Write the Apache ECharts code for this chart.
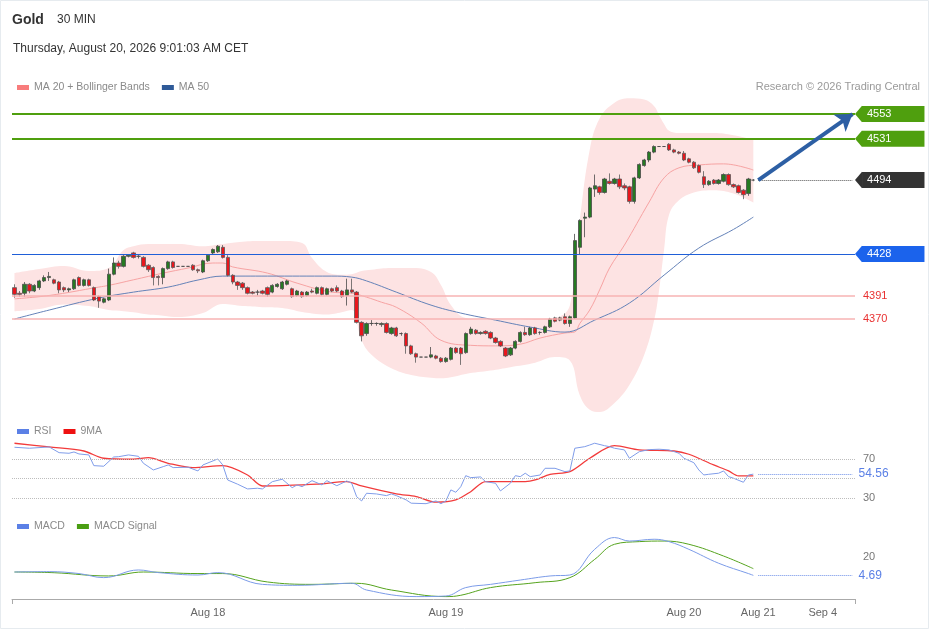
<!DOCTYPE html>
<html><head><meta charset="utf-8">
<script src="https://cdn.jsdelivr.net/npm/echarts@6/dist/echarts.min.js"></script>
<style>html,body{margin:0;padding:0;background:#fff}#c{width:929px;height:629px}</style>
</head><body><div id="c"></div>
<script>
// ---- DATA ----
// candles: [open, close, low, high], one per 30-min bar
const candleOHLC = [
[4398,4392,4389,4401],[4393,4392,4390,4395],[4393,4401,4390,4403],[4401,4395,4393,4402],[4395,4400,4394,4401],
[4398,4404,4396,4405],[4404,4407,4403,4409],[4407,4408,4404,4412],[4405,4402,4401,4406],[4403,4396,4393,4404],
[4398,4396,4394,4399],[4396,4397,4394,4398],[4397,4405,4396,4406],[4407,4400,4399,4408],[4400,4405,4399,4406],
[4405,4400,4399,4406],[4398,4387,4386,4399],[4390,4386,4380,4391],[4385,4388,4384,4389],[4387,4410,4386,4415],
[4410,4420,4409,4425],[4420,4417,4415,4422],[4417,4426,4416,4427],[4426,4427,4425,4428],[4429,4425,4424,4430],
[4426,4426,4424,4427],[4425,4417,4416,4426],[4418,4414,4412,4419],[4416,4407,4400,4417],[4408,4407,4400,4409],
[4407,4415,4401,4416],[4415,4421,4414,4422],[4421,4416,4415,4422],[4417,4417,4417,4417],[4417,4417,4417,4417],
[4417,4417,4417,4417],[4418,4414,4413,4419],[4414,4413,4411,4415],[4412,4422,4411,4423],[4422,4427,4421,4428],
[4429,4432,4428,4433],[4430,4435,4429,4436],[4434,4425,4424,4436],[4425,4409,4408,4427],[4409,4403,4401,4410],
[4403,4400,4396,4404],[4402,4398,4396,4403],[4398,4393,4392,4399],[4394,4393,4392,4395],[4394,4394,4391,4396],
[4395,4393,4392,4396],[4398,4392,4390,4399],[4394,4400,4393,4401],[4399,4401,4398,4402],[4397,4403,4396,4404],
[4401,4404,4400,4405],[4397,4390,4389,4398],[4391,4395,4390,4396],[4394,4390,4389,4395],[4391,4394,4390,4395],
[4395,4394,4393,4397],[4393,4398,4392,4399],[4398,4392,4391,4399],[4392,4397,4391,4398],[4397,4395,4394,4398],
[4398,4395,4394,4400],[4395,4390,4389,4396],[4391,4396,4382,4406],[4396,4394,4393,4406],[4394,4367,4366,4395],
[4367,4355,4350,4368],[4357,4366,4355,4367],[4366,4366,4364,4369],[4366,4366,4364,4367],[4365,4366,4363,4367],
[4366,4358,4357,4367],[4357,4362,4356,4363],[4362,4355,4354,4363],[4357,4357,4355,4358],[4357,4346,4339,4358],
[4346,4339,4338,4347],[4339,4336,4331,4340],[4336,4336,4336,4336],[4336,4336,4336,4336],[4336,4338,4335,4345],
[4337,4335,4334,4338],[4335,4332,4331,4336],[4332,4335,4331,4336],[4334,4344,4333,4345],[4344,4340,4339,4345],
[4344,4339,4329,4345],[4340,4357,4339,4358],[4357,4361,4356,4363],[4360,4357,4356,4361],[4357,4358,4356,4359],
[4359,4357,4356,4360],[4358,4353,4352,4359],[4353,4349,4348,4354],[4350,4346,4345,4351],[4344,4337,4336,4345],
[4338,4344,4337,4345],[4344,4350,4343,4351],[4350,4358,4349,4359],[4358,4356,4355,4363],[4356,4362,4355,4363],
[4362,4357,4356,4363],[4358,4358,4356,4359],[4358,4363,4357,4364],[4363,4370,4362,4371],[4371,4368,4367,4372],
[4369,4371,4368,4372],[4372,4366,4365,4375],[4366,4372,4363,4373],[4371,4440,4370,4446],[4434,4458,4428,4459],
[4460,4461,4443,4465],[4461,4487,4460,4488],[4486,4489,4479,4499],[4488,4483,4481,4489],[4483,4495,4482,4496],
[4493,4491,4490,4500],[4491,4495,4490,4496],[4495,4488,4486,4499],[4489,4487,4485,4491],[4488,4475,4473,4489],
[4475,4496,4473,4497],[4496,4508,4495,4509],[4507,4512,4506,4513],[4512,4519,4510,4520],[4519,4524,4518,4525],
[4524,4524,4524,4524],[4524,4524,4524,4524],[4526,4521,4520,4527],[4521,4519,4518,4522],[4519,4518,4517,4520],
[4518,4512,4511,4520],[4513,4510,4509,4514],[4510,4505,4504,4511],[4507,4501,4500,4508],[4497,4490,4487,4502],
[4490,4493,4489,4494],[4494,4491,4490,4495],[4491,4494,4490,4495],[4493,4499,4492,4500],[4499,4490,4489,4500],
[4490,4488,4487,4491],[4489,4483,4482,4490],[4485,4481,4477,4486],[4482,4495,4480,4496],[4494,4494,4493,4495]
];
// indicator lines: [bar index, value]
const ma20 = [[0,4388],[7,4391],[17,4398.5],[19,4400],[24,4405],[30,4411],[35,4415.5],[40,4420],[42,4420],[44,4416.5],[51,4411],[57,4402],[64,4394],[68,4393],[71,4389.5],[74,4385],[77,4380.5],[82,4366.5],[86,4351],[92,4346.5],[97,4346],[102,4347.5],[106,4353],[111,4357.5],[113,4358.5],[114,4366],[116,4378],[118,4396],[120,4415.5],[123,4436],[128,4474.5],[131,4496],[134,4505],[138,4507.5],[143,4508.5],[149,4503]];
const ma50 = [[0,4370],[7,4378],[17,4388.7],[24,4394],[31,4398.5],[37,4404.8],[42,4408.3],[51,4408.3],[64,4408.3],[68,4407.4],[71,4404],[77,4394],[84,4382.4],[90,4375.3],[97,4369],[104,4362.8],[111,4358.3],[117,4369],[124,4384.2],[131,4409.2],[138,4433.3],[145,4450],[149,4461]];
const bandIndex = [0,5,10,15,19,22,24,27,30,33,38,42,46,50,54,58,60,63,66,68,70,72,76,80,84,86,88,91,96,100,105,109,112,114,116,118,121,124,127,129,130,131,132,134,137,141,145,149];
const bandUpper = [4411,4414.6,4417.3,4412.8,4415.5,4431.6,4435,4437,4437,4437,4435,4437,4439,4439.6,4439.6,4437.8,4424.4,4411.9,4409.5,4410,4412.8,4414,4415.5,4415.5,4411.9,4400.3,4382.4,4370.8,4369,4369,4370,4371,4382,4458,4521,4549,4563,4567,4566,4560,4552,4544,4538,4536,4536,4536,4534,4530];
const bandLower = [4377,4379,4383,4381.5,4378,4377,4376,4374,4373,4371.7,4375.3,4383.3,4381.5,4380.6,4379.8,4376.2,4375,4374,4376,4378,4351,4338,4326,4320,4317.5,4317,4318,4321,4324,4327,4331,4336,4333,4302,4289,4287,4295,4311,4338,4369,4396,4432,4463,4476,4483,4485,4482,4474];
const rsi = [[0,81.9],[3,80.9],[7,82.2],[9,76.4],[11,75.8],[12,77.1],[13,75.1],[15,74.1],[16,63.2],[18,62.6],[20,72],[21,72.3],[23,74.1],[25,72.7],[26,65.6],[28,58.8],[30,62.2],[31,63.9],[32,61.2],[35,61.6],[37,57.8],[38,63.9],[41,70],[42,63.9],[43,48.6],[45,44.3],[47,39.5],[49,40.2],[50,39.5],[52,46.9],[54,49.4],[56,40.8],[57,43.6],[58,41.8],[60,47.9],[62,43.6],[63,47.9],[65,42.8],[67,47.6],[68,45.3],[69,31.6],[70,27.3],[71,35.1],[73,34.4],[75,32.7],[76,34.4],[77,32.7],[79,28.3],[80,25],[83,24.5],[85,27.3],[86,24.5],[87,27.3],[88,38.5],[89,36.1],[90,41.8],[91,53],[92,51],[94,51.7],[95,46.9],[97,45.3],[98,37.5],[100,45.3],[101,53],[102,52],[103,55.5],[104,52],[106,53.7],[107,60.5],[109,60.5],[111,57.1],[112,57.8],[113,80.9],[115,82.5],[116,84.2],[117,86],[119,83.5],[120,82.5],[121,80.9],[123,79.2],[124,70.7],[126,77.4],[128,79.5],[130,79.9],[132,79.2],[134,75.8],[135,70.7],[137,66.2],[138,58.8],[139,53.7],[140,54.4],[142,55.5],[143,57.8],[144,52],[145,50.4],[147,46.3],[148,53.7],[149,54.56]];
const rsi9ma = [[0,86],[7,82.2],[14,78.1],[18,70.7],[24,69.7],[27,71.3],[31,65.6],[36,61.2],[42,63.2],[47,53.7],[50,42.5],[54,42.8],[61,44.3],[67,46.9],[70,42.5],[77,34.4],[81,31.7],[85,26],[89,28.3],[92,36.7],[95,46.9],[99,46.9],[103,46.9],[105,48.6],[108,54.4],[112,57.1],[116,70.7],[121,83.5],[126,79.2],[133,78.1],[136,74.8],[141,63.9],[144,57.8],[146,52.7],[149,52.7]];
const macd = [[0,7.5],[7,7.8],[13,6.2],[18,2.8],[25,9.2],[29,7],[37,5],[41,7],[50,-2.8],[57,-3.6],[68,-1.9],[71,-7.5],[81,-13],[87,-12.5],[91,-5.5],[96,-2.8],[102,0.8],[108,4.2],[112,5],[117,26.4],[121,36.2],[124,33.3],[129,34.8],[132,32.8],[136,26.4],[142,14.8],[148,6.2],[149,4.69]];
const macdSignal = [[0,7.5],[8,6.9],[19,4.2],[26,7.5],[37,6.2],[42,6.2],[51,-0.8],[60,-2.8],[69,-1.9],[76,-7.5],[87,-13],[90,-11.9],[96,-5.5],[105,-1.4],[112,2.8],[117,18],[121,30.6],[126,32.8],[131,33.3],[136,30.6],[143,20.8],[149,10.3]];
const tickLabels = ['Aug 18','Aug 19','Aug 20','Aug 21','Sep 4'];
const tickIndex = [39, 87, 135, 150, 163];
const resistances = [4553, 4531];
const pivotLevel = 4428;
const supports = [4391, 4370];
const lastPrice = 4494;
const targetPrice = 4553;
const rsiLevels = [70, 50, 30];
const rsiLast = 54.56;
const macdLast = 4.69;
const macdRef = 20;
const slotCount = 170;
const lastSlot = 150, endSlot = 169, arrowSlot = 169;

// ---- CHART ----
const FONT = 'Liberation Sans, Arial, sans-serif';
const GREEN = '#4f9f0e', BLUE = '#1b63ec', DARK = '#333333';
const cats = Array.from({length: slotCount}, (_, i) => 'c' + i);
const labelFor = idx => { const k = tickIndex.indexOf(idx); return k >= 0 ? tickLabels[k] : ''; };
const chart = echarts.init(document.getElementById('c'), null, {renderer: 'canvas'});
const grids = [
  {left: 12, right: 74, top: 95, height: 319.2},
  {left: 12, right: 74, top: 439.3, height: 68.8},
  {left: 12, right: 74, top: 534.2, height: 64.8}
];
const priceBox = (bg) => ({show: true, position: 'end', distance: 7, color: '#fff', backgroundColor: bg,
  padding: [3, 33, 2, 5], fontSize: 11, fontFamily: FONT, formatter: p => String(p.value)});
const hLine = (v, color, width, type, label) => ({yAxis: v, lineStyle: {color, width, type}, label});
const tab = (v, color) => ({coord: [endSlot, v], symbol: 'path://M7,0 L7,10 L0,5 Z', symbolSize: [7, 16.5],
  symbolOffset: [6, 0], symbolKeepAspect: false, itemStyle: {color}, label: {show: false}});
const option = {
  animation: false,
  textStyle: {fontFamily: FONT},
  grid: grids,
  graphic: [
    {type: 'rect', shape: {x: 0.5, y: 0.5, width: 928, height: 628}, style: {fill: 'none', stroke: '#e6ebef', lineWidth: 1}, silent: true},
    {type: 'text', left: 12, top: 13, style: {text: 'Gold', font: 'bold 14px ' + FONT, fill: '#333'}},
    {type: 'text', left: 57, top: 14, style: {text: '30 MIN', font: '12px ' + FONT, fill: '#333'}},
    {type: 'text', left: 13, top: 43, style: {text: 'Thursday, August 20, 2026 9:01:03 AM CET', font: '12px ' + FONT, fill: '#333'}},
    {type: 'text', right: 9, top: 81, style: {text: 'Research \u00a9 2026 Trading Central', font: '11px ' + FONT, fill: '#9a9a9a'}}
  ],
  legend: [
    {data: ['MA 20 + Bollinger Bands', 'MA 50'], left: 12, top: 77, icon: 'rect', itemWidth: 12, itemHeight: 5, itemGap: 12,
      textStyle: {color: '#8a8a8a', fontSize: 10.5, fontFamily: FONT}, selectedMode: false},
    {data: ['RSI', '9MA'], left: 12, top: 421, icon: 'rect', itemWidth: 12, itemHeight: 5, itemGap: 12,
      textStyle: {color: '#8a8a8a', fontSize: 10.5, fontFamily: FONT}, selectedMode: false},
    {data: ['MACD', 'MACD Signal'], left: 12, top: 516, icon: 'rect', itemWidth: 12, itemHeight: 5, itemGap: 12,
      textStyle: {color: '#8a8a8a', fontSize: 10.5, fontFamily: FONT}, selectedMode: false}
  ],
  xAxis: [0, 1, 2].map(g => ({
    type: 'category', gridIndex: g, data: cats, boundaryGap: true,
    show: g === 2,
    axisLine: {show: g === 2, onZero: false, lineStyle: {color: '#aaa', width: 1}},
    axisTick: {show: g === 2, interval: idx => idx === 0, length: 5, lineStyle: {color: '#aaa'}},
    axisLabel: {show: g === 2, interval: 0, formatter: (v, idx) => labelFor(idx), color: '#666', fontSize: 11, margin: 8, fontFamily: FONT},
    splitLine: {show: false}
  })),
  yAxis: [
    {gridIndex: 0, min: 4285, max: 4570, show: false, splitLine: {show: false}},
    {gridIndex: 1, min: 20, max: 90, show: false, splitLine: {show: false}},
    {gridIndex: 2, min: -15, max: 39, show: false, splitLine: {show: false}}
  ],
  series: [
    {name: 'bbLower', type: 'line', stack: 'bb', smooth: 0.4, symbol: 'none', silent: true, z: 1,
      data: bandIndex.map((x, i) => [x, bandLower[i]]), lineStyle: {opacity: 0}},
    {name: 'bbWidth', type: 'line', stack: 'bb', smooth: 0.4, symbol: 'none', silent: true, z: 1,
      data: bandIndex.map((x, i) => [x, bandUpper[i] - bandLower[i]]), lineStyle: {opacity: 0},
      areaStyle: {color: '#fde3e3', opacity: 1}},
    {name: 'MA 20 + Bollinger Bands', type: 'line', data: ma20, smooth: 0.4, symbol: 'none', z: 2,
      itemStyle: {color: '#f87c7c'}, lineStyle: {color: '#f7a3a3', width: 1}},
    {name: 'MA 50', type: 'line', data: ma50, smooth: 0.4, symbol: 'none', z: 2,
      itemStyle: {color: '#2f5a98'}, lineStyle: {color: '#6482b8', width: 1}},
    {name: 'Gold', type: 'candlestick', z: 3, barWidth: 3.8,
      data: candleOHLC.map((c, k) => [k, c[0], c[1], c[2], c[3]]),
      encode: {x: 0, y: [1, 2, 3, 4]},
      itemStyle: {color: '#267a22', color0: '#e8161c', borderColor: '#4a4a4a', borderColor0: '#5a5a5a', borderWidth: 0.8},
      markPoint: {
        silent: true, animation: false,
        data: [tab(resistances[0], GREEN), tab(resistances[1], GREEN), tab(lastPrice, DARK), tab(pivotLevel, BLUE)]
      },
      markLine: {
        silent: true, symbol: ['none', 'none'], animation: false,
        data: [
          hLine(resistances[0], GREEN, 2, 'solid', priceBox(GREEN)),
          hLine(resistances[1], GREEN, 2, 'solid', priceBox(GREEN)),
          hLine(pivotLevel, '#1f5fd8', 1.2, 'solid', priceBox(BLUE)),
          hLine(supports[0], '#f7b3b3', 1.5, 'solid', {show: true, position: 'end', distance: 8, color: '#e83030', fontSize: 11, fontFamily: FONT, formatter: p => String(p.value)}),
          hLine(supports[1], '#f7b3b3', 1.5, 'solid', {show: true, position: 'end', distance: 8, color: '#e83030', fontSize: 11, fontFamily: FONT, formatter: p => String(p.value)}),
          [{coord: [lastSlot, lastPrice], lineStyle: {color: '#555', width: 1, type: 'dotted'}, label: Object.assign(priceBox(DARK), {formatter: () => String(lastPrice), distance: 9.5})},
           {coord: [endSlot, lastPrice]}],
          [{coord: [lastSlot, lastPrice], symbol: 'none', lineStyle: {color: '#2d5fa4', width: 4, type: 'solid'}, label: {show: false}},
           {coord: [arrowSlot, targetPrice], symbol: 'arrow', symbolSize: 16}]
        ]
      }},
    {name: 'RSI', type: 'line', xAxisIndex: 1, yAxisIndex: 1, data: rsi, symbol: 'none', z: 3,
      itemStyle: {color: '#5b80e6'}, lineStyle: {color: '#7f9ce9', width: 1},
      markLine: {
        silent: true, symbol: ['none', 'none'],
        data: rsiLevels.map(v => ({yAxis: v, lineStyle: {color: '#bdbdbd', width: 1, type: 'dotted'},
          label: {show: v !== 50, position: 'end', distance: 8, color: '#777', fontSize: 11, fontFamily: FONT, formatter: () => String(v)}}))
          .concat([[{coord: [lastSlot, rsiLast], lineStyle: {color: '#6d8fe8', width: 1, type: 'dotted'},
            label: {show: true, position: 'end', distance: 6, color: '#5b80e6', fontSize: 12, fontFamily: FONT, formatter: () => String(rsiLast)}},
            {coord: [endSlot, rsiLast]}]])
      }},
    {name: '9MA', type: 'line', xAxisIndex: 1, yAxisIndex: 1, data: rsi9ma, smooth: 0.3, symbol: 'none', z: 2,
      itemStyle: {color: '#ee1111'}, lineStyle: {color: '#f23b3b', width: 1.3}},
    {name: 'MACD', type: 'line', xAxisIndex: 2, yAxisIndex: 2, data: macd, smooth: 0.4, symbol: 'none', z: 3,
      itemStyle: {color: '#5b80e6'}, lineStyle: {color: '#7b9be8', width: 1},
      markLine: {
        silent: true, symbol: ['none', 'none'],
        data: [
          {yAxis: macdRef, lineStyle: {color: 'rgba(0,0,0,0)', width: 0}, label: {show: true, position: 'end', distance: 8, color: '#777', fontSize: 11, fontFamily: FONT, formatter: () => String(macdRef)}},
          [{coord: [lastSlot, macdLast], lineStyle: {color: '#6d8fe8', width: 1, type: 'dotted'},
            label: {show: true, position: 'end', distance: 6, color: '#5b80e6', fontSize: 12, fontFamily: FONT, formatter: () => String(macdLast)}},
           {coord: [endSlot, macdLast]}]
        ]
      }},
    {name: 'MACD Signal', type: 'line', xAxisIndex: 2, yAxisIndex: 2, data: macdSignal, smooth: 0.4, symbol: 'none', z: 2,
      itemStyle: {color: '#4a9e12'}, lineStyle: {color: '#55a31d', width: 1}}
  ]
};
chart.setOption(option);
</script></body></html>
